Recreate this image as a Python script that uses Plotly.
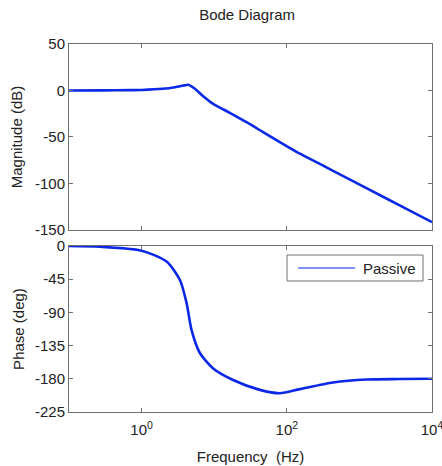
import plotly.graph_objects as go

# Values
mag_freq = [0.1, 0.3, 0.69, 1.0, 1.96, 2.87, 3.37, 3.9, 4.38, 5.42, 7.05, 9.68, 16.4, 27.9, 47.2, 80.1, 136, 196, 434, 1250, 3590, 10000]
mag_db = [0.0, 0.1, 0.4, 0.6, 1.8, 3.5, 4.6, 5.5, 6.1, 1.8, -6.1, -14.3, -24.0, -34.1, -44.8, -55.6, -66.0, -72.4, -86.4, -105.0, -123.6, -141.6]

ph_freq = [0.1, 0.267, 1.0, 2.21, 3.37, 4.16, 4.88, 6.35, 9.68, 18.2, 42.5, 80, 151, 434, 1250, 3590, 10000]
ph_deg = [0.0, -1.0, -6.3, -21.0, -46.0, -77.0, -114.0, -145.0, -166.0, -181.6, -195.0, -199.5, -194.0, -185.0, -181.0, -180.3, -180.0]

mag_ticks = [50, 0, -50, -100, -150]
mag_ticktext = ["50", "0", "-50", "-100", "-150"]
ph_ticks = [0, -45, -90, -135, -180, -225]
ph_ticktext = ["0", "-45", "-90", "-135", "-180", "-225"]
x_tickvals = [1, 100, 10000]
x_ticktext = ["10<sup>0</sup>", "10<sup>2</sup>", "10<sup>4</sup>"]
legend_label = "Passive"

blue = "#0a28e6"
frame = "#707070"
font = "Liberation Sans, Arial, sans-serif"
fs = 15

fig = go.Figure()
fig.add_trace(go.Scatter(x=mag_freq, y=mag_db, mode="lines",
                         line=dict(color=blue, width=2.6, shape="spline", smoothing=0.7),
                         showlegend=False, xaxis="x", yaxis="y"))
fig.add_trace(go.Scatter(x=ph_freq, y=ph_deg, mode="lines", name=legend_label,
                         line=dict(color=blue, width=2.6, shape="spline", smoothing=0.7),
                         showlegend=False, xaxis="x2", yaxis="y2"))

axis_common = dict(showgrid=False, zeroline=False, showline=True, linecolor=frame, linewidth=1,
                   mirror="ticks", ticks="inside", ticklen=4, tickcolor=frame, automargin=False,
                   ticklabeloverflow="allow",
                   tickfont=dict(family=font, size=fs, color="#222"))
title_font = dict(family=font, size=fs, color="#222")

# Legend box drawn in paper coordinates (top right of phase panel)
fig.add_shape(type="rect", xref="paper", yref="paper", x0=0.6006, x1=0.9752, y0=0.356, y1=0.4266,
              line=dict(color=frame, width=1), fillcolor="white", layer="above")
fig.add_shape(type="line", xref="paper", yref="paper", x0=0.631, x1=0.788, y0=0.3913, y1=0.3913,
              line=dict(color="#5a6cf0", width=1.3), layer="above")
fig.add_annotation(xref="paper", yref="paper", x=0.805, y=0.3913, xanchor="left", yanchor="middle",
                   text=legend_label, showarrow=False, font=dict(family=font, size=fs, color="#222"))

fig.update_layout(
    width=442, height=466,
    margin=dict(l=69, r=10, t=44, b=54),
    paper_bgcolor="white", plot_bgcolor="white",
    font=dict(family=font, color="#222"),
    title=dict(text="Bode Diagram", x=0.559, xanchor="center", y=0.968, yanchor="middle",
               font=dict(family=font, size=15, color="#222")),
    xaxis=dict(type="log", range=[-1, 4], domain=[0, 1], anchor="y", matches="x2",
               tickvals=x_tickvals, showticklabels=False, **axis_common),
    yaxis=dict(range=[-150, 50], domain=[0.4946, 1], tickvals=mag_ticks, ticktext=mag_ticktext, anchor="x",
               title=dict(text="Magnitude (dB)", font=title_font, standoff=8),
               **axis_common),
    xaxis2=dict(type="log", range=[-1, 4], domain=[0, 1], anchor="y2",
                tickvals=x_tickvals, ticktext=x_ticktext, ticklabelstandoff=4,
                title=dict(text="Frequency \u00a0(Hz)", font=title_font, standoff=14),
                **axis_common),
    yaxis2=dict(range=[-225, 0], domain=[0, 0.451], tickvals=ph_ticks, ticktext=ph_ticktext, anchor="x2",
                title=dict(text="Phase (deg)", font=title_font, standoff=6),
                **axis_common),
)

fig.write_html("out.html", config={"displayModeBar": False},
               post_script="document.body.style.margin='0px';document.body.style.overflow='hidden';")
